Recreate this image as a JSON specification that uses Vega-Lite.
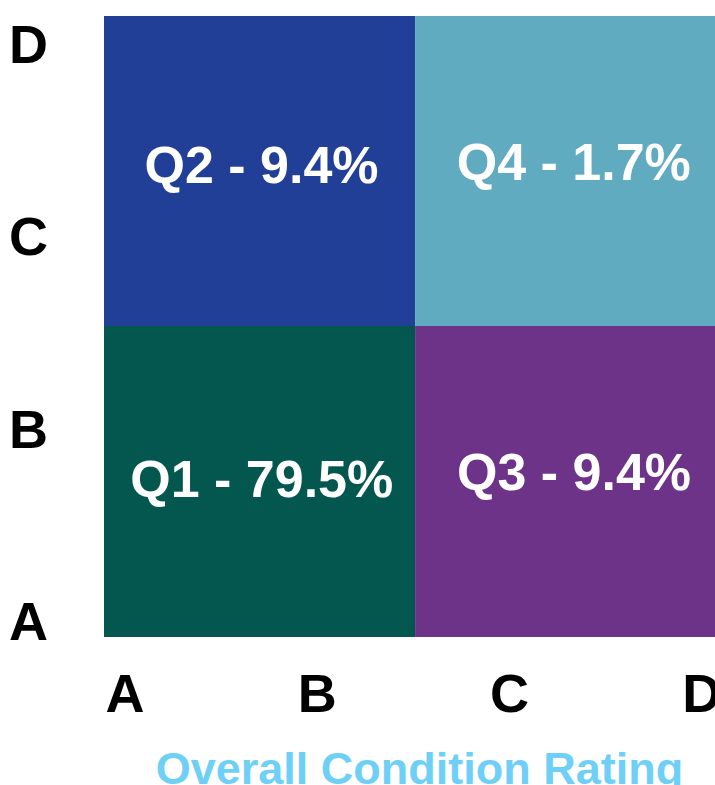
{
  "$schema": "https://vega.github.io/schema/vega-lite/v6.json",
  "width": 611,
  "height": 621,
  "autosize": {"type": "none"},
  "padding": {"left": 104, "top": 16, "right": 0, "bottom": 148},
  "background": "white",
  "config": {"view": {"stroke": null}, "font": "Liberation Sans"},
  "data": {
    "values": [
      {"q": "Q1", "label": "Q1 - 79.5%", "x0": 0.894, "x1": 2.512, "y0": 0.913, "y1": 2.53, "tx": 1.7145, "ty": 1.6415},
      {"q": "Q2", "label": "Q2 - 9.4%", "x0": 0.894, "x1": 2.512, "y0": 2.53, "y1": 4.143, "tx": 1.7135, "ty": 3.2737},
      {"q": "Q3", "label": "Q3 - 9.4%", "x0": 2.512, "x1": 4.072, "y0": 0.913, "y1": 2.53, "tx": 3.3385, "ty": 1.6764},
      {"q": "Q4", "label": "Q4 - 1.7%", "x0": 2.512, "x1": 4.072, "y0": 2.53, "y1": 4.143, "tx": 3.3375, "ty": 3.2893}
    ]
  },
  "layer": [
    {
      "mark": {"type": "rect"},
      "encoding": {
        "x": {
          "field": "x0", "type": "quantitative",
          "scale": {"domain": [0.894, 4.072], "nice": false, "zero": false},
          "axis": {
            "values": [1, 2, 3, 4],
            "labelExpr": "['','A','B','C','D'][datum.value]",
            "ticks": false, "tickSize": 0, "domain": false, "grid": false,
            "labelFontSize": 54, "labelFontWeight": "bold", "labelColor": "black",
            "labelBaseline": "alphabetic", "labelPadding": 74,
            "labelFlush": false, "labelOverlap": false, "labelBound": false,
            "title": "Overall Condition Rating",
            "titleFontSize": 45, "titleFontWeight": "bold", "titleColor": "#6FD0F7",
            "titleX": 315, "titleY": 146, "titleBaseline": "alphabetic", "titleAlign": "center", "titleAnchor": null
          }
        },
        "x2": {"field": "x1"},
        "y": {
          "field": "y0", "type": "quantitative",
          "scale": {"domain": [0.913, 4.143], "nice": false, "zero": false},
          "axis": {
            "values": [1, 2, 3, 4],
            "labelExpr": "['','A','B','C','D'][datum.value]",
            "ticks": false, "tickSize": 0, "domain": false, "grid": false,
            "labelFontSize": 54, "labelFontWeight": "bold", "labelColor": "black",
            "labelAlign": "center", "labelBaseline": "alphabetic", "labelPadding": 76, "labelOffset": 19,
            "labelFlush": false, "labelOverlap": false, "labelBound": false,
            "title": null
          }
        },
        "y2": {"field": "y1"},
        "color": {
          "field": "q", "type": "nominal",
          "scale": {"domain": ["Q1", "Q2", "Q3", "Q4"], "range": ["#03574F", "#223F98", "#6C3389", "#61ABC1"]},
          "legend": null
        }
      }
    },
    {
      "mark": {"type": "text", "color": "white", "fontSize": 52, "fontWeight": "bold", "baseline": "alphabetic", "align": "center"},
      "encoding": {
        "x": {"field": "tx", "type": "quantitative"},
        "y": {"field": "ty", "type": "quantitative"},
        "text": {"field": "label"}
      }
    }
  ]
}
